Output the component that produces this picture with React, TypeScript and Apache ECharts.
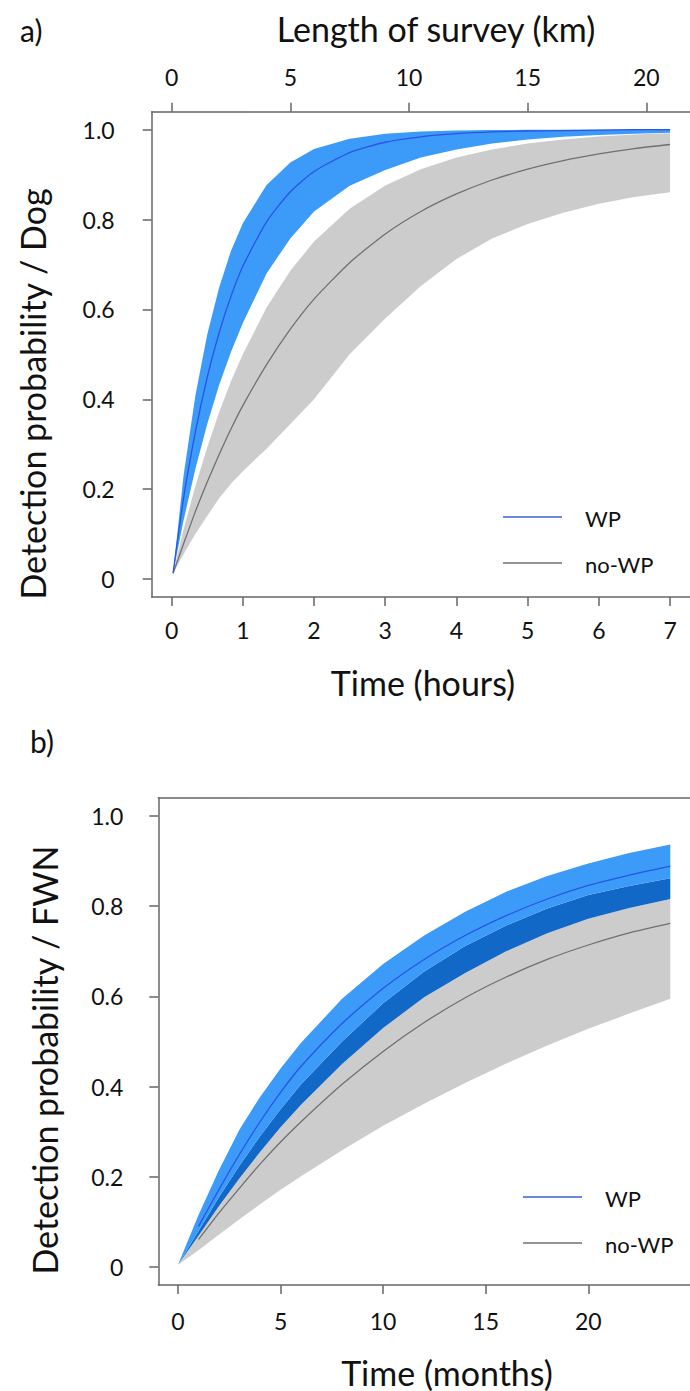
import React, { useEffect, useRef } from "react";
import * as echarts from "echarts";

// ---------- Panel a (Dog) ----------
const hours = [0.02, 0.167, 0.333, 0.5, 0.667, 0.833, 1, 1.333, 1.667, 2, 2.5, 3, 3.5, 4, 4.5, 5, 5.5, 6, 6.5, 7];
const dogWpUpper = [0.013, 0.23, 0.408, 0.544, 0.649, 0.73, 0.792, 0.877, 0.927, 0.957, 0.98, 0.991, 0.996, 0.998, 0.999, 1.0, 1.0, 1.0, 1.0, 1.0];
const dogWpMean = [0.013, 0.18, 0.327, 0.449, 0.548, 0.629, 0.696, 0.795, 0.862, 0.907, 0.949, 0.972, 0.984, 0.991, 0.995, 0.997, 0.998, 0.999, 1.0, 1.0];
const dogWpLower = [0.013, 0.13, 0.245, 0.345, 0.432, 0.505, 0.57, 0.68, 0.758, 0.818, 0.875, 0.91, 0.938, 0.956, 0.969, 0.978, 0.984, 0.988, 0.991, 0.993];
const dogNoUpper = [0.013, 0.11, 0.207, 0.293, 0.371, 0.44, 0.5, 0.604, 0.686, 0.751, 0.824, 0.876, 0.912, 0.938, 0.956, 0.969, 0.978, 0.985, 0.989, 0.992];
const dogNoMean = [0.013, 0.078, 0.15, 0.216, 0.277, 0.334, 0.386, 0.477, 0.556, 0.623, 0.704, 0.768, 0.818, 0.857, 0.888, 0.912, 0.931, 0.946, 0.958, 0.967];
const dogNoLower = [0.013, 0.055, 0.1, 0.14, 0.18, 0.212, 0.24, 0.29, 0.345, 0.4, 0.5, 0.58, 0.652, 0.712, 0.758, 0.79, 0.815, 0.835, 0.85, 0.861];

const hourTicks = [0, 1, 2, 3, 4, 5, 6, 7];
const kmTicks = [0, 5, 10, 15, 20];
const probTicks = [0, 0.2, 0.4, 0.6, 0.8, 1.0];

// ---------- Panel b (FWN) ----------
const months = [0, 1, 2, 3, 4, 5, 6, 8, 10, 12, 14, 16, 18, 20, 22, 24];
const fwnWpUpper = [0.005, 0.115, 0.215, 0.305, 0.377, 0.44, 0.497, 0.595, 0.672, 0.735, 0.788, 0.832, 0.867, 0.895, 0.918, 0.937];
const fwnNoUpper = [0.005, 0.08, 0.155, 0.225, 0.29, 0.35, 0.405, 0.5, 0.585, 0.655, 0.712, 0.757, 0.795, 0.825, 0.845, 0.862];
const fwnWpLower = [0.005, 0.069, 0.135, 0.197, 0.255, 0.31, 0.36, 0.45, 0.53, 0.598, 0.652, 0.7, 0.74, 0.772, 0.796, 0.816];
const fwnNoLower = [0.005, 0.037, 0.072, 0.106, 0.139, 0.171, 0.201, 0.259, 0.313, 0.362, 0.408, 0.451, 0.491, 0.528, 0.562, 0.595];
const monthsMean = [1, 2, 3, 4, 5, 6, 8, 10, 12, 14, 16, 18, 20, 22, 24];
const fwnWpMean = [0.09, 0.172, 0.25, 0.322, 0.387, 0.445, 0.54, 0.618, 0.682, 0.735, 0.779, 0.816, 0.846, 0.869, 0.889];
const fwnNoMean = [0.061, 0.12, 0.175, 0.228, 0.277, 0.322, 0.405, 0.478, 0.542, 0.597, 0.643, 0.682, 0.714, 0.741, 0.762];
const monthTicks = [0, 5, 10, 15, 20];

const FONT = "Lato";
const AXIS_COLOR = "#666";
const LIGHT_BLUE = "#3c9af8";
const DARK_BLUE = "#1268c7";
const GRAY_BAND = "#cccccc";
const BLUE_LINE = "#2a55e3";
const GRAY_LINE = "#707070";

function pairs(xs: number[], ys: number[]) {
  return xs.map((x, i) => [x, ys[i]]);
}

// Filled band between two curves, drawn through the axes' scales (api.coord)
function band(xs: number[], lower: number[], upper: number[], color: string, xi: number, yi: number) {
  return {
    type: "custom",
    coordinateSystem: "cartesian2d",
    xAxisIndex: xi,
    yAxisIndex: yi,
    silent: true,
    clip: true,
    z: 1,
    data: [[xs[0], lower[0]]],
    renderItem: (_params: any, api: any) => {
      const top = xs.map((x, i) => api.coord([x, upper[i]]));
      const bottom = xs.map((x, i) => api.coord([x, lower[i]])).reverse();
      return {
        type: "polygon",
        shape: { points: top.concat(bottom), smooth: 0 },
        style: { fill: color, stroke: null },
      };
    },
  };
}

function meanLine(xs: number[], ys: number[], color: string, xi: number, yi: number) {
  return {
    type: "line",
    xAxisIndex: xi,
    yAxisIndex: yi,
    data: pairs(xs, ys),
    symbol: "none",
    silent: true,
    smooth: 0.2,
    z: 3,
    lineStyle: { color, width: 1.3 },
  };
}

function probFormatter(v: number) {
  return v === 0 ? "0" : v.toFixed(1);
}

const axisLine = { show: true, onZero: false, lineStyle: { color: AXIS_COLOR, width: 1.5 } };
const tickStyle = { lineStyle: { color: AXIS_COLOR, width: 1.5 }, length: 9 };
const labelStyle = { color: "#111", fontSize: 23, fontFamily: FONT };

function legend(x: number, y: number, color: string, label: string) {
  return [
    {
      type: "line",
      z: 100,
      shape: { x1: x, y1: y, x2: x + 59, y2: y },
      style: { stroke: color, lineWidth: 1.3 },
    },
    {
      type: "text",
      z: 100,
      x: x + 82,
      y: y + 1,
      style: { text: label, fontSize: 22, fontFamily: FONT, fill: "#111", textVerticalAlign: "middle" },
    },
  ];
}

function txt(text: string, x: number, y: number, size: number, align: string, rotation = 0) {
  return {
    type: "text",
    z: 100,
    x,
    y,
    rotation,
    style: { text, fontSize: size, fontFamily: FONT, fill: "#111", textAlign: align, textVerticalAlign: "middle" },
  };
}

export default function App() {
  const ref = useRef<HTMLDivElement>(null);
  useEffect(() => {
    if (!ref.current) return;
    const chart = echarts.init(ref.current, null, { renderer: "svg" });
    const option: any = {
      animation: false,
      backgroundColor: "#fff",
      grid: [
        { left: 151.7, top: 111.7, width: 540.3, height: 485.3, show: false },
        { left: 158.3, top: 798, width: 543.8, height: 487, show: false },
      ],
      xAxis: [
        {
          gridIndex: 0, type: "value", position: "bottom", min: -0.28, max: 7.28,
          axisLine, axisTick: { ...tickStyle, customValues: hourTicks },
          axisLabel: { ...labelStyle, margin: 21, customValues: hourTicks },
          splitLine: { show: false },
        },
        {
          gridIndex: 0, type: "value", position: "top", min: -0.84, max: 21.84,
          axisLine, axisTick: { ...tickStyle, customValues: kmTicks },
          axisLabel: { ...labelStyle, margin: 23, customValues: kmTicks },
          splitLine: { show: false },
        },
        {
          gridIndex: 1, type: "value", position: "bottom", min: -0.96, max: 24.96,
          axisLine, axisTick: { ...tickStyle, customValues: monthTicks },
          axisLabel: { ...labelStyle, margin: 24, customValues: monthTicks },
          splitLine: { show: false },
        },
        {
          gridIndex: 1, type: "value", position: "top", min: -0.96, max: 24.96,
          axisLine, axisTick: { show: false }, axisLabel: { show: false },
          splitLine: { show: false },
        },
      ],
      yAxis: [
        {
          gridIndex: 0, type: "value", min: -0.04, max: 1.04,
          axisLine, axisTick: { ...tickStyle, customValues: probTicks },
          axisLabel: { ...labelStyle, margin: 37, customValues: probTicks, formatter: probFormatter },
          splitLine: { show: false },
        },
        {
          gridIndex: 1, type: "value", min: -0.04, max: 1.04,
          axisLine, axisTick: { ...tickStyle, customValues: probTicks },
          axisLabel: { ...labelStyle, margin: 35, customValues: probTicks, formatter: probFormatter },
          splitLine: { show: false },
        },
      ],
      series: [
        // Panel a bands
        band(hours, dogNoLower, dogNoUpper, GRAY_BAND, 0, 0),
        band(hours, dogWpLower, dogWpUpper, LIGHT_BLUE, 0, 0),
        meanLine(hours, dogNoMean, GRAY_LINE, 0, 0),
        meanLine(hours, dogWpMean, BLUE_LINE, 0, 0),
        // Panel b bands: gray (no-WP only), dark blue (overlap), light blue (WP only)
        band(months, fwnNoLower, fwnWpLower, GRAY_BAND, 2, 1),
        band(months, fwnWpLower, fwnNoUpper, DARK_BLUE, 2, 1),
        band(months, fwnNoUpper, fwnWpUpper, LIGHT_BLUE, 2, 1),
        meanLine(monthsMean, fwnNoMean, GRAY_LINE, 2, 1),
        meanLine(monthsMean, fwnWpMean, BLUE_LINE, 2, 1),
      ],
      graphic: [
        txt("a)", 20, 30, 30, "left"),
        txt("Length of survey (km)", 436, 28, 34, "center"),
        txt("Time (hours)", 423, 682, 34, "center"),
        txt("Detection probability / Dog", 32, 394, 34, "center", Math.PI / 2),
        ...legend(503, 517, "#3a62d0", "WP"),
        ...legend(503, 563, GRAY_LINE, "no-WP"),
        txt("b)", 30, 741, 30, "left"),
        txt("Time (months)", 447, 1372, 34, "center"),
        txt("Detection probability / FWN", 44, 1060, 34, "center", Math.PI / 2),
        ...legend(523, 1197, "#3a62d0", "WP"),
        ...legend(523, 1243, GRAY_LINE, "no-WP"),
      ],
    };
    chart.setOption(option);
    return () => chart.dispose();
  }, []);
  return (
    <div
      ref={ref}
      style={{ position: "absolute", left: 0, top: 0, width: 690, height: 1391, background: "#fff" }}
    />
  );
}
